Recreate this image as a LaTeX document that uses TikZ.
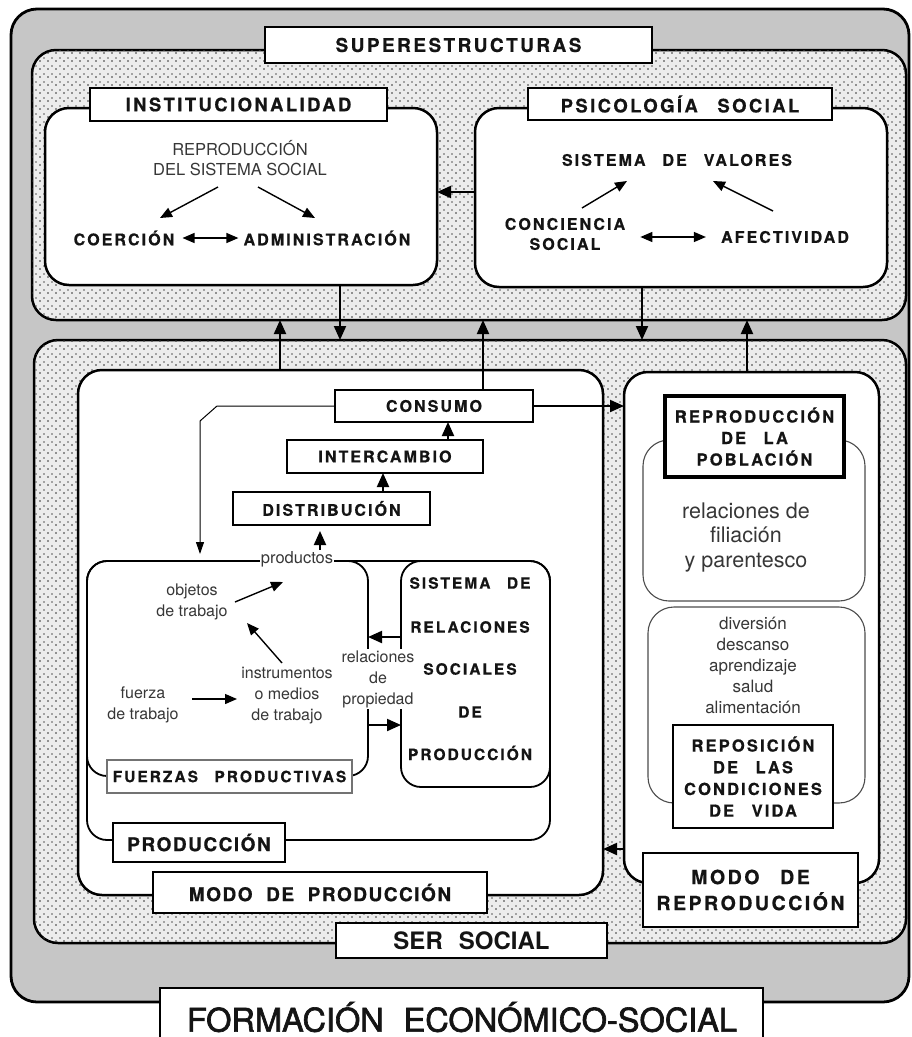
\documentclass[tikz,border=0pt]{standalone}
\usepackage{fontspec}
\setmainfont{TeX Gyre Heros}
\newfontfamily\LSfont[LetterSpace=13,WordSpace=2.6,BoldFeatures={FakeBold=0.6}]{TeX Gyre Heros}
\newfontfamily\LSmid[LetterSpace=8,WordSpace=2,BoldFeatures={FakeBold=0.6}]{TeX Gyre Heros}
\newfontfamily\WSfont[WordSpace=2.2,FakeBold=2]{TeX Gyre Heros}
\newfontfamily\SSfont[WordSpace=2.4]{TeX Gyre Heros}
\usetikzlibrary{arrows.meta,patterns.meta,calc}

\definecolor{framegray}{RGB}{198,198,198}
\definecolor{dotbg}{RGB}{236,236,236}
\definecolor{inktxt}{RGB}{20,20,20}
\definecolor{softtxt}{RGB}{55,55,55}

\newcommand\fB[2]{\LSfont\bfseries\fontsize{#1}{#2}\selectfont}
\newcommand\fM[2]{\LSmid\bfseries\fontsize{#1}{#2}\selectfont}
\newcommand\fR[2]{\normalfont\fontsize{#1}{#2}\selectfont}
\newcommand\fW[2]{\WSfont\fontsize{#1}{#2}\selectfont}
\newcommand\fS[2]{\SSfont\bfseries\fontsize{#1}{#2}\selectfont}

\tikzset{
  boxat/.style n args={4}{anchor=north west, minimum width={(#3-#1)*1pt}, minimum height={(#4-#2)*1pt}, inner sep=0pt, outer sep=0pt},
  region/.style={draw, line width=2.5pt, rounded corners=24pt, fill=dotbg,
    postaction={pattern={Dots[distance=8pt,radius=0.95pt]}, pattern color=black!80},
    postaction={pattern={Dots[distance=8pt,radius=0.8pt,xshift=4pt,yshift=3pt]}, pattern color=black!65}},
  whitebox/.style={draw, line width=2.5pt, rounded corners=24pt, fill=white},
  thinbox/.style={draw, line width=1.8pt, rounded corners=20pt},
  softbox/.style={draw=black!70, line width=1.1pt, rounded corners=26pt},
  tagbox/.style={draw, line width=2.2pt, fill=white, text=inktxt, align=center},
  tag/.style={inner sep=2pt, text=inktxt, align=center},
  soft/.style={inner sep=2pt, text=softtxt, align=center},
  arr/.style={line width=2pt, -{Triangle[length=14pt,width=12pt]}},
  arrs/.style={line width=1.4pt, -{Triangle[length=12pt,width=10pt]}},
  darr/.style={line width=1.3pt, {Triangle[length=12pt,width=10pt]}-{Triangle[length=12pt,width=10pt]}},
  thinarr/.style={line width=1pt, -{Triangle[length=12pt,width=8pt]}},
}

\begin{document}
\begin{tikzpicture}[x=1pt,y=-1pt]
\useasboundingbox (0,0) rectangle (912,1037);
\fill[white] (0,0) rectangle (912,1037);

% outer frame and regions
\node[boxat={11}{9}{909}{1002}, draw, line width=2.8pt, rounded corners=26pt, fill=framegray] (fes) at (11,9) {};
\node[boxat={32}{50}{906}{320}, region] (super) at (32,50) {};
\node[boxat={34}{340}{906}{943}, region] (base) at (34,340) {};

% white boxes
\node[boxat={45}{108}{437}{285}, whitebox] (inst) at (45,108) {};
\node[boxat={475}{108}{887}{287}, whitebox] (psico) at (475,108) {};
\node[boxat={78}{370}{603}{895}, whitebox] (mprod) at (78,370) {};
\node[boxat={624}{372}{879}{883}, whitebox] (mrep) at (624,372) {};

% production outlines
\node[boxat={87}{561}{550}{840}, thinbox] (prod) at (87,561) {};
\node[boxat={87}{561}{368}{776}, thinbox] (fuer) at (87,561) {};
\node[boxat={401}{561}{550}{787}, thinbox] (srsp) at (401,561) {};

% reproduction inner boxes
\node[boxat={643}{440}{865}{601}, softbox] (filia) at (643,440) {};
\node[boxat={648}{607}{865}{803}, softbox] (condi) at (648,607) {};

% label boxes
\node[boxat={265}{27}{652}{63}, tagbox, font=\fB{19}{22}] (supl) at (265,27) {SUPERESTRUCTURAS};
\node[boxat={90}{88}{387}{121}, tagbox, font=\fB{18.5}{22}] (instl) at (90,88) {INSTITUCIONALIDAD};
\node[boxat={528}{88}{832}{120}, tagbox, font=\fB{18.5}{22}] (psicol) at (528,88) {PSICOLOGÍA SOCIAL};
\node[boxat={335}{390}{533}{422}, tagbox, font=\fB{16}{19}] (cons) at (335,390) {CONSUMO};
\node[boxat={287}{440}{483}{473}, tagbox, font=\fB{16}{19}] (interc) at (287,440) {INTERCAMBIO};
\node[boxat={233}{492}{430}{525}, tagbox, font=\fB{16}{19}] (distr) at (233,492) {DISTRIBUCIÓN};
\node[boxat={107}{760}{352}{793}, tagbox, draw=black!55, line width=1.3pt, font=\fB{15.5}{18}] (fuerl) at (107,760) {FUERZAS PRODUCTIVAS};
\node[boxat={113}{823}{285}{862}, tagbox, font=\fM{19}{22}] (prodl) at (113,823) {PRODUCCIÓN};
\node[boxat={153}{872}{487}{913}, tagbox, font=\fM{19}{22}] (mprodl) at (153,872) {MODO DE PRODUCCIÓN};
\node[boxat={643}{853}{858}{927}, tagbox, font=\fB{19.5}{26}] (mrepl) at (643,853) {MODO DE\\REPRODUCCIÓN};
\node[boxat={336}{923}{607}{958}, tagbox, font=\fS{24}{26}] (serl) at (336,923) {SER SOCIAL};
\node[boxat={160}{988}{763}{1050}, tagbox, line width=2.8pt] (fesl) at (160,988) {};
\node[tag, font=\fW{32.5}{34}] (fest) at (462,1017) {FORMACIÓN ECONÓMICO-SOCIAL};
\node[boxat={665}{396}{844}{477}, tagbox, line width=3.8pt, font=\fB{16.5}{21.5}] (rpob) at (665,396) {REPRODUCCIÓN\\DE LA\\POBLACIÓN};
\node[boxat={673}{725}{833}{828}, tagbox, line width=2.4pt, font=\fB{16.5}{21.7}] (repo) at (673,725) {REPOSICIÓN\\DE LAS\\CONDICIONES\\DE VIDA};

% institucionalidad content
\node[soft, font=\fR{16.5}{20}] (rsys) at (240,158) {REPRODUCCIÓN\\DEL SISTEMA SOCIAL};
\node[tag, font=\fB{16}{19}] (coer) at (124,238) {COERCIÓN};
\node[tag, font=\fB{16}{19}] (admin) at (327,238) {ADMINISTRACIÓN};
\coordinate (i1) at (218,187); \coordinate (i2) at (160,218);
\coordinate (i3) at (258,187); \coordinate (i4) at (315,218);
\draw[arrs] (i1) -- (i2);
\draw[arrs] (i3) -- (i4);
\draw[darr, shorten <=6pt, shorten >=3pt] (coer.east) -- (admin.west |- coer.east);

% psicologia content
\node[tag, font=\fB{16}{19}] (valo) at (677,160) {SISTEMA DE VALORES};
\node[tag, font=\fB{16}{20}] (conc) at (565,234) {CONCIENCIA\\SOCIAL};
\node[tag, font=\fB{16}{19}] (afec) at (785,237) {AFECTIVIDAD};
\coordinate (p1) at (582,208); \coordinate (p2) at (627,181);
\coordinate (p3) at (773,211); \coordinate (p4) at (713,181);
\draw[arrs] (p1) -- (p2);
\draw[arrs] (p3) -- (p4);
\draw[darr, shorten <=13pt, shorten >=13pt] (conc.east |- afec.west) -- (afec.west);

% production content
\node[soft, font=\fR{16.5}{20}, fill=white, inner sep=1pt] (prodt) at (297,559) {productos};
\node[soft, font=\fR{16}{21}] (obj) at (192,602) {objetos\\de trabajo};
\node[soft, font=\fR{16}{21}] (inst2) at (287,696) {instrumentos\\o medios\\de trabajo};
\node[soft, font=\fR{16}{21}] (fza) at (143,705) {fuerza\\de trabajo};
\node[soft, font=\fR{16}{21}, fill=white, inner sep=1pt] (relp) at (378,679) {relaciones\\de\\propiedad};
\node[tag, font=\fB{15.5}{19}] (s1) at (470,583) {SISTEMA DE};
\node[tag, font=\fB{15.5}{19}] (s2) at (470,627) {RELACIONES};
\node[tag, font=\fB{15.5}{19}] (s3) at (470,669) {SOCIALES};
\node[tag, font=\fB{15.5}{19}] (s4) at (470,712) {DE};
\node[tag, font=\fB{15.5}{19}] (s5) at (470,753) {PRODUCCIÓN};
\coordinate (f1) at (235,602); \coordinate (f2) at (283,582);
\coordinate (f3) at (282,663); \coordinate (f4) at (247,623);
\coordinate (f5) at (192,699); \coordinate (f6) at (237,699);
\draw[arrs] (f1) -- (f2);
\draw[arrs] (f3) -- (f4);
\draw[arrs] (f5) -- (f6);

% reproduction content
\node[soft, font=\fR{21.5}{24.5}] (filt) at (746,537) {relaciones de\\filiación\\y parentesco};
\node[soft, font=\fR{17}{21}] (condt) at (753,665) {diversión\\descanso\\aprendizaje\\salud\\alimentación};

% connectors
\coordinate (xa) at (340,0); \coordinate (xb) at (280,0); \coordinate (xc) at (483,0);
\coordinate (xd) at (642,0); \coordinate (xe) at (747,0); \coordinate (xf) at (448,0);
\coordinate (xg) at (383,0); \coordinate (xh) at (320,0);
\coordinate (ya) at (0,192); \coordinate (yb) at (0,849); \coordinate (yc) at (0,637); \coordinate (yd) at (0,725);
\coordinate (k1) at (217,406); \coordinate (k2) at (200,421);

\draw[arr] (psico.west |- ya) -- (inst.east |- ya);
\draw[arr] (inst.south -| xa) -- (base.north -| xa);
\draw[arr] (psico.south -| xd) -- (base.north -| xd);
\draw[arr] (mprod.north -| xb) -- (super.south -| xb);
\draw[arr] (cons.north -| xc) -- (super.south -| xc);
\draw[arr] (mrep.north -| xe) -- (super.south -| xe);
\draw[arr] (cons.east) -- (mrep.west |- cons.east);
\draw[arr] (mrep.west |- yb) -- (mprod.east |- yb);
\draw[thinarr, shorten >=7pt] (cons.west) -- (k1) -- (k2) -- (k2 |- prod.north);
\draw[arr] (interc.north -| xf) -- (cons.south -| xf);
\draw[arr] (distr.north -| xg) -- (interc.south -| xg);
\draw[arr, shorten >=6pt] (prodt.north -| xh) -- (distr.south -| xh);
\draw[arr] (srsp.west |- yc) -- (fuer.east |- yc);
\draw[arr] (fuer.east |- yd) -- (srsp.west |- yd);
\end{tikzpicture}
\end{document}
